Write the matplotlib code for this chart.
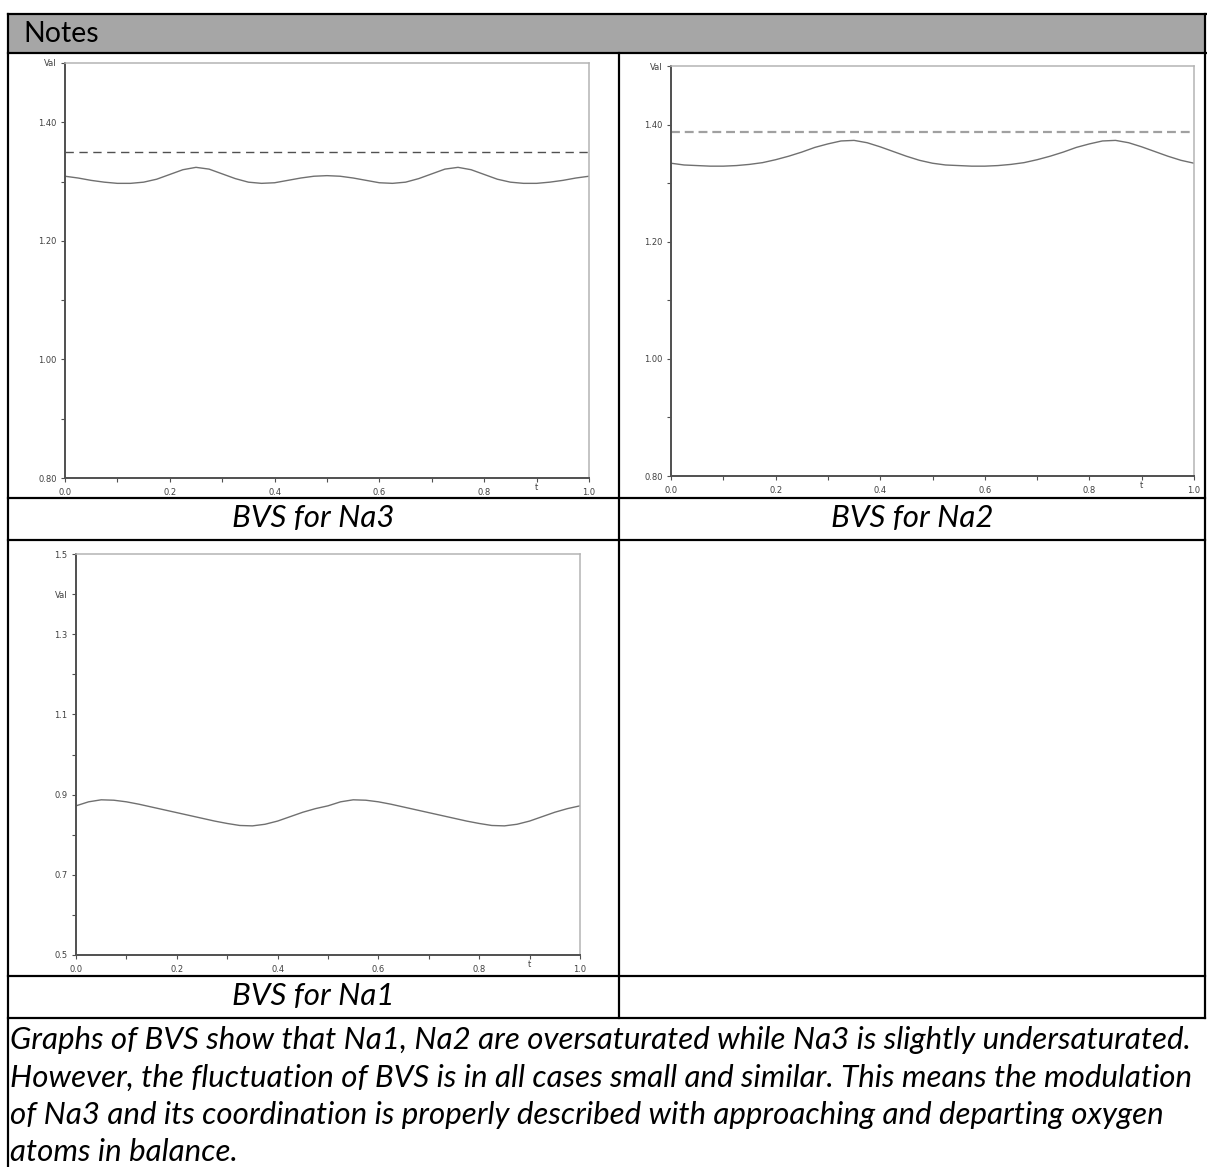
import matplotlib.pyplot as plt
from matplotlib.lines import Line2D
from matplotlib.patches import Rectangle
from matplotlib.transforms import blended_transform_factory

# page size in pixels (dpi 100)
W, H = 1207, 1167

# modulation parameter t and BVS values
t_values = [
	0.000, 0.025, 0.050, 0.075, 0.100, 0.125, 0.150, 0.175, 0.200, 0.225,
	0.250, 0.275, 0.300, 0.325, 0.350, 0.375, 0.400, 0.425, 0.450, 0.475,
	0.500, 0.525, 0.550, 0.575, 0.600, 0.625, 0.650, 0.675, 0.700, 0.725,
	0.750, 0.775, 0.800, 0.825, 0.850, 0.875, 0.900, 0.925, 0.950, 0.975,
	1.000
]
na3_bvs = [
	1.309, 1.306, 1.302, 1.299, 1.297, 1.297, 1.299, 1.304, 1.312, 1.320,
	1.324, 1.321, 1.313, 1.305, 1.299, 1.297, 1.298, 1.302, 1.306, 1.309,
	1.310, 1.309, 1.306, 1.302, 1.298, 1.297, 1.299, 1.305, 1.313, 1.321,
	1.324, 1.320, 1.312, 1.304, 1.299, 1.297, 1.297, 1.299, 1.302, 1.306,
	1.309
]
na2_bvs = [
	1.334, 1.331, 1.330, 1.329, 1.329, 1.330, 1.332, 1.335, 1.340, 1.346,
	1.353, 1.361, 1.367, 1.372, 1.373, 1.369, 1.362, 1.354, 1.346, 1.339,
	1.334, 1.331, 1.330, 1.329, 1.329, 1.330, 1.332, 1.335, 1.340, 1.346,
	1.353, 1.361, 1.367, 1.372, 1.373, 1.369, 1.362, 1.354, 1.346, 1.339,
	1.334
]
na1_bvs = [
	0.872, 0.882, 0.887, 0.886, 0.882, 0.876, 0.869, 0.862, 0.855, 0.848,
	0.841, 0.834, 0.828, 0.823, 0.822, 0.826, 0.834, 0.845, 0.856, 0.865,
	0.872, 0.882, 0.887, 0.886, 0.882, 0.876, 0.869, 0.862, 0.855, 0.848,
	0.841, 0.834, 0.828, 0.823, 0.822, 0.826, 0.834, 0.845, 0.856, 0.865,
	0.872
]
na3_reference = 1.35
na2_reference = 1.388

x_ticks = [0.0, 0.2, 0.4, 0.6, 0.8, 1.0]
x_tick_labels = ['0.0', '0.2', '0.4', '0.6', '0.8', '1.0']
x_minor = [0.1, 0.3, 0.5, 0.7, 0.9]

top_yticks = [0.8, 1.0, 1.2, 1.4, 1.5]
top_ylabels = ['0.80', '1.00', '1.20', '1.40', 'Val']
top_yminor = [0.9, 1.1, 1.3]

na1_yticks = [0.5, 0.7, 0.9, 1.1, 1.3, 1.4, 1.5]
na1_ylabels = ['0.5', '0.7', '0.9', '1.1', '1.3', 'Val', '1.5']
na1_yminor = [0.6, 0.8, 1.0, 1.2]

captions = ['BVS for Na3', 'BVS for Na2', 'BVS for Na1']
notes_lines = [
	'Graphs of BVS show that Na1, Na2 are oversaturated while Na3 is slightly undersaturated.',
	'However, the fluctuation of BVS is in all cases small and similar. This means the modulation',
	'of Na3 and its coordination is properly described with approaching and departing oxygen',
	'atoms in balance.',
]

TEXT_FONT = 'Lato'
TEXT_SIZE = 22.5
AXIS_DARK = '#505050'
AXIS_LIGHT = '#b4b4b4'


def fx(x):
	return x / W


def fy(y):
	return 1 - y / H


def rule(fig, x0, y0, x1, y1, lw=2.2):
	""" draws a black table rule, coordinates in pixels from the top left """
	fig.add_artist(Line2D([fx(x0), fx(x1)], [fy(y0), fy(y1)], transform=fig.transFigure,
		color='black', lw=lw * 0.72, solid_capstyle='projecting'))


def px_axes(fig, left, top, right, bottom):
	return fig.add_axes([fx(left), fy(bottom), (right - left) / W, (bottom - top) / H])


def format_axes(ax, yticks, ylabels, yminor, ylim):
	ax.set_xlim(0, 1)
	ax.set_ylim(*ylim)
	ax.set_xticks(x_ticks)
	ax.set_xticklabels(x_tick_labels)
	ax.set_xticks(x_minor, minor=True)
	ax.set_yticks(yticks)
	ax.set_yticklabels(ylabels)
	ax.set_yticks(yminor, minor=True)

	for side in ['left', 'bottom']:
		ax.spines[side].set_color(AXIS_DARK)
		ax.spines[side].set_linewidth(1.4)
	for side in ['top', 'right']:
		ax.spines[side].set_color(AXIS_LIGHT)
		ax.spines[side].set_linewidth(1.1)

	ax.tick_params(which='both', direction='out', length=3, width=0.8,
		colors=AXIS_DARK, labelsize=6)
	ax.tick_params(axis='y', which='both', pad=3)
	ax.tick_params(axis='x', which='both', pad=4.5)
	for label in ax.get_xticklabels() + ax.get_yticklabels():
		label.set_color('#404040')

	# the 't' axis name sits next to the 0.9 tick
	trans = blended_transform_factory(ax.transData, ax.transAxes)
	ax.text(0.9, -0.012, 't', transform=trans, ha='center', va='top',
		fontsize=6, color='#404040')
	return ax


fig = plt.figure(figsize=(W / 100, H / 100), dpi=100)
fig.patch.set_facecolor('white')

# header band
fig.add_artist(Rectangle((fx(8), fy(53)), (1205 - 8) / W, (53 - 14) / H,
	transform=fig.transFigure, facecolor='#a6a6a6', edgecolor='none'))
fig.text(fx(23), fy(34), 'Notes', family=TEXT_FONT, fontsize=20.5,
	ha='left', va='center', color='black')

# table rules
rule(fig, 8, 14, 1207, 14)
rule(fig, 8, 53, 1207, 53)
rule(fig, 8, 14, 8, 1167)
rule(fig, 1205, 14, 1205, 1018)
rule(fig, 619, 53, 619, 1018)
for y in [498, 540, 976, 1018]:
	rule(fig, 8, y, 1205, y)

# Na3
ax3 = px_axes(fig, 65, 63, 589, 478)
ax3.plot(t_values, na3_bvs, color='#707070', lw=1.0)
ax3.axhline(na3_reference, color='#505050', lw=1.0, dashes=[6, 4])
format_axes(ax3, top_yticks, top_ylabels, top_yminor, (0.8, 1.5))

# Na2
ax2 = px_axes(fig, 671, 66, 1194, 476)
ax2.plot(t_values, na2_bvs, color='#707070', lw=1.0)
ax2.axhline(na2_reference, color='#a0a0a0', lw=1.6, dashes=[4.0, 2.2])
format_axes(ax2, top_yticks, top_ylabels, top_yminor, (0.8, 1.5))

# Na1
ax1 = px_axes(fig, 76, 554, 580, 955)
ax1.plot(t_values, na1_bvs, color='#707070', lw=1.0)
format_axes(ax1, na1_yticks, na1_ylabels, na1_yminor, (0.5, 1.5))

# captions
for caption, (x, y) in zip(captions, [(313.5, 518), (912, 518), (313.5, 996)]):
	fig.text(fx(x), fy(y), caption, family=TEXT_FONT, style='italic',
		fontsize=TEXT_SIZE, ha='center', va='center', color='black')

# closing notes
for i, line in enumerate(notes_lines):
	fig.text(fx(10), fy(1040 + i * 37.3), line, family=TEXT_FONT, style='italic',
		fontsize=TEXT_SIZE, ha='left', va='center', color='black')

fig.savefig('out.png', dpi=100)
